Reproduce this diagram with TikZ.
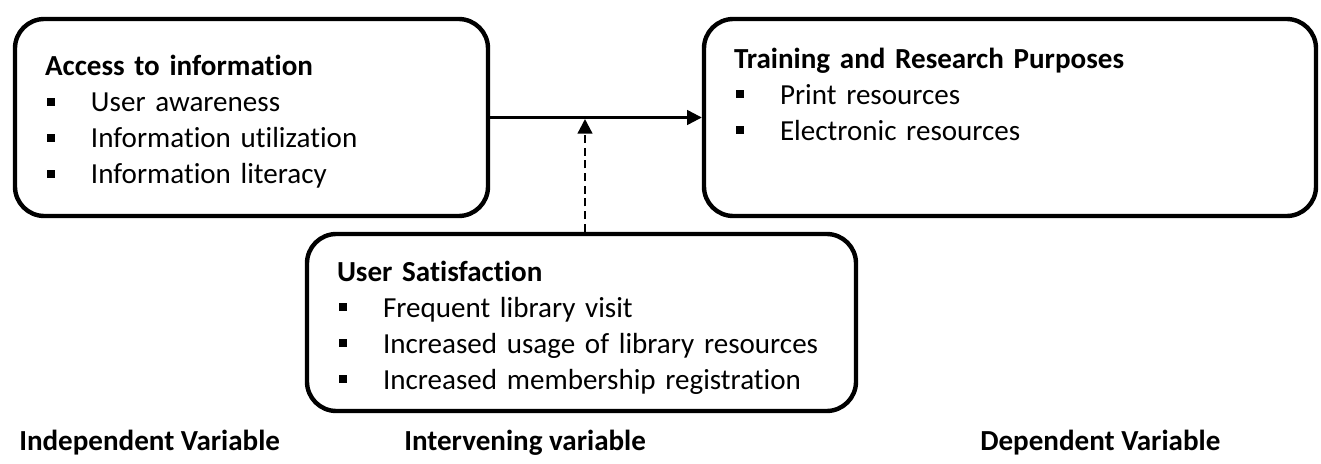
\documentclass[tikz,border=0pt]{standalone}
\usepackage{fontspec}
\setmainfont[Ligatures=NoCommon]{Carlito}
\usetikzlibrary{arrows.meta}
\tikzstyle{box} = [rectangle, rounded corners=22pt, line width=3.3pt, draw=black, align=left, inner sep=0pt, minimum height=147.75pt, font=\fontsize{21.8}{27}\selectfont]
\tikzstyle{varname} = [anchor=west, inner sep=0pt, font=\fontsize{21.8}{26}\selectfont\bfseries]
\tikzstyle{arrow} = [line width=1.7pt, -{Triangle[length=11pt,width=11pt]}]
\tikzstyle{dasharrow} = [arrow, dash pattern=on 6pt off 3.5pt]
\newcommand{\sqbullet}{\makebox[34.5pt][l]{\hspace{1.5pt}\rule[4.5pt]{6pt}{6pt}}}

\begin{document}
\begin{tikzpicture}[x=0.75pt, y=-0.75pt]
  \useasboundingbox (0,0) rectangle (1321,464);
  \node (access) [box, minimum width=354.75pt, text width=309.75pt] at (251.5,117.5)
    {\rule{0pt}{22pt}\textbf{Access to information}\\
     \sqbullet User awareness\\
     \sqbullet Information utilization\\
     \sqbullet Information literacy};
  \node (training) [box, minimum width=459pt, text width=414pt, right of=access, node distance=568.875pt]
    {\textbf{Training and Research Purposes}\\
     \sqbullet Print resources\\
     \sqbullet Electronic resources\\[8pt]
     ~};
  \node (satisfaction) [box, minimum width=411.75pt, minimum height=132.75pt, text width=366.75pt, below of=access, node distance=153.75pt, xshift=247.5pt]
    {\rule{0pt}{23pt}\textbf{User Satisfaction}\\
     \sqbullet Frequent library visit\\
     \sqbullet Increased usage of library resources\\
     \sqbullet Increased membership registration};
  \coordinate (meet) at (585,119);

  \node (indep) [varname] at (19,443) {Independent Variable};
  \node (interv) [varname] at (404,443) {Intervening variable};
  \node (dep) [varname] at (980,443) {Dependent Variable};

  \draw [arrow] (access) -- (training);
  \draw [dasharrow] (satisfaction.north -| meet) -- (meet);
\end{tikzpicture}
\end{document}
